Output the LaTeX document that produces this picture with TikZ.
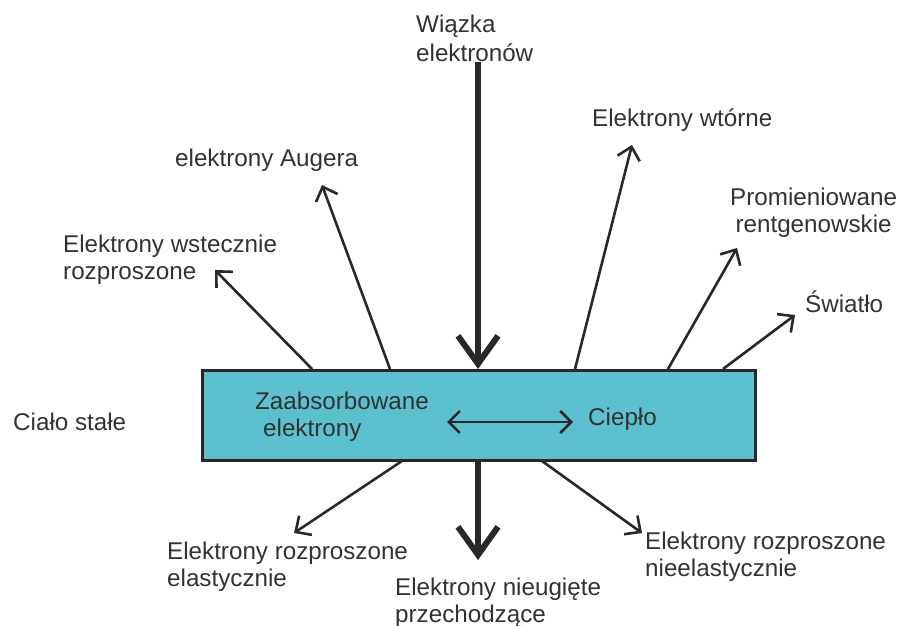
\documentclass[tikz,border=0pt]{standalone}
\usepackage{fontspec}
\setmainfont{Liberation Sans}
\usetikzlibrary{arrows.meta}
\definecolor{boxfill}{RGB}{92,192,206}
\definecolor{ink}{RGB}{40,40,40}
\definecolor{txt}{RGB}{50,50,50}
\begin{document}
\begin{tikzpicture}[x=1pt,y=-1pt,
  lbl/.style={anchor=base west,inner sep=0pt,align=left,text=txt,font=\fontsize{24.2}{27}\selectfont},
  thin/.style={draw=ink,line width=2.6pt,-{Straight Barb[length=12pt,width=23pt]}},
  thick/.style={draw=ink,line width=6pt,-{Straight Barb[length=28pt,width=40pt]}},
  both/.style={draw=ink,line width=2.6pt,{Straight Barb[length=11pt,width=22pt]}-{Straight Barb[length=11pt,width=22pt]}}]
\useasboundingbox (0,0) rectangle (898,626);
\node (box) [draw=ink,line width=3pt,fill=boxfill,minimum width=553pt,minimum height=90pt,inner sep=0pt] at (478.5,415) {};
% labels (base anchor = baseline of last line)
\node (beam) [lbl,font=\fontsize{24.2}{29}\selectfont] at (416,62) {Wiązka\\elektronów};
\node (auger) [lbl] at (175,167) {elektrony Augera};
\node (back) [lbl] at (63,279) {Elektrony wstecznie\\rozproszone};
\node (sec) [lbl] at (592,127) {Elektrony wtórne};
\node (xray) [lbl,align=center] at (730,232) {Promieniowane\\rentgenowskie};
\node (light) [lbl] at (805,312) {Światło};
\node (solid) [lbl] at (13,430) {Ciało stałe};
\node (abs) [lbl] at (255,436) {Zaabsorbowane\\\hspace*{8pt}elektrony};
\node (heat) [lbl] at (588,425) {Ciepło};
\node (elas) [lbl] at (167,586) {Elektrony rozproszone\\elastycznie};
\node (trans) [lbl] at (395,622) {Elektrony nieugięte\\przechodzące};
\node (inel) [lbl] at (645,576) {Elektrony rozproszone\\nieelastycznie};
% coordinates
\coordinate (bt) at (478,62);
\coordinate (btip) at (478,369);
\coordinate (s1) at (312,369);
\coordinate (t1) at (215,270);
\coordinate (s2) at (390,369);
\coordinate (t2) at (322,185);
\coordinate (s3) at (575,369);
\coordinate (t3) at (632,145);
\coordinate (s4) at (668,369);
\coordinate (t4) at (737,248);
\coordinate (s5) at (723,369);
\coordinate (t5) at (795,315);
\coordinate (s6) at (402,461);
\coordinate (t6) at (294,533);
\coordinate (s7) at (542,461);
\coordinate (t7) at (642,533);
\coordinate (s8) at (478,461);
\coordinate (t8) at (478,560);
\coordinate (da) at (447,422);
\coordinate (db) at (573,422);
% arrows
\draw[thick] (bt) -- (btip);
\draw[thick] (s8) -- (t8);
\draw[thin] (s1) -- (t1);
\draw[thin] (s2) -- (t2);
\draw[thin] (s3) -- (t3);
\draw[thin] (s4) -- (t4);
\draw[thin] (s5) -- (t5);
\draw[thin] (s6) -- (t6);
\draw[thin] (s7) -- (t7);
\draw[both] (da) -- (db);
\end{tikzpicture}
\end{document}
